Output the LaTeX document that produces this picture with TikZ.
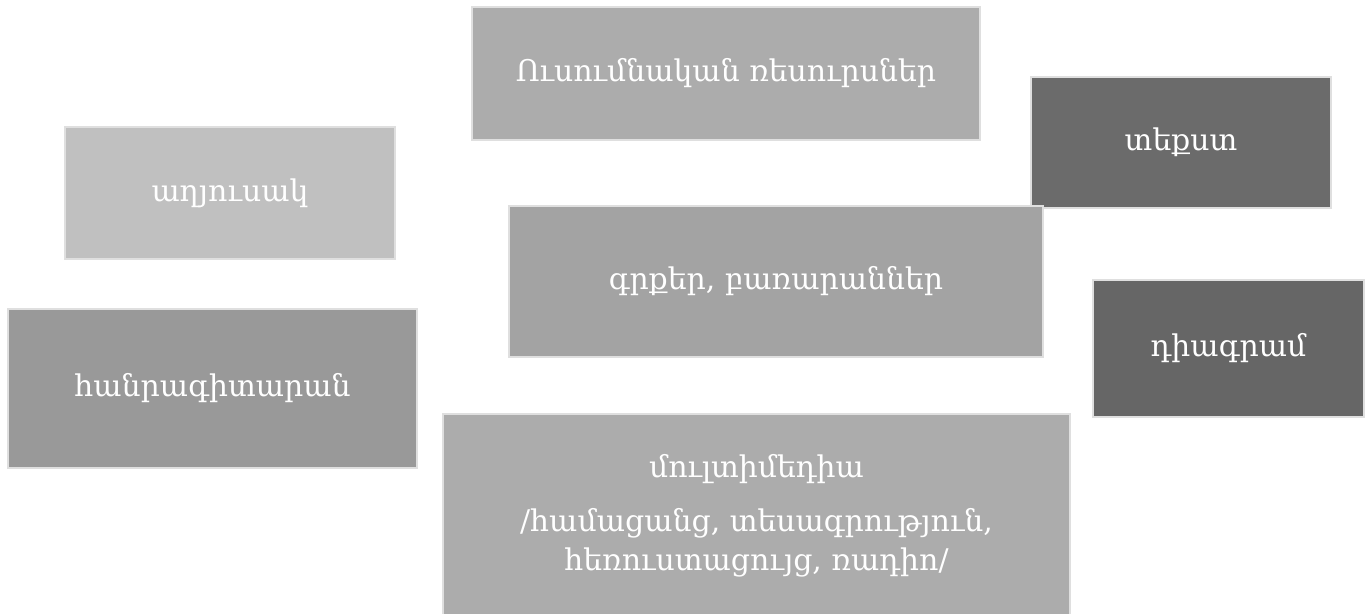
\documentclass[tikz,border=0pt]{standalone}
\usepackage{fontspec}
\setmainfont{DejaVu Serif}
\usepackage{xcolor}

\definecolor{resgray}{HTML}{ACACAC}
\definecolor{tabgray}{HTML}{C0C0C0}
\definecolor{bookgray}{HTML}{A3A3A3}
\definecolor{encgray}{HTML}{999999}
\definecolor{textgray}{HTML}{6B6B6B}
\definecolor{diagray}{HTML}{666666}

\tikzset{
  resbox/.style={draw=gray!25, line width=0.6pt, text=white, align=center,
    inner sep=0pt, font=\fontsize{17}{22}\selectfont},
}

\begin{document}
\begin{tikzpicture}

% Define dimensions
\def\pagewidth{27.4cm}
\def\pageheight{12.26cm}

\useasboundingbox (0,0) rectangle (\pagewidth,\pageheight);
\clip (0,0) rectangle (\pagewidth,\pageheight);

% Draw boxes, back to front
\node[resbox, fill=resgray, minimum width=10.16cm, minimum height=2.66cm] (res) at (14.52,10.79) {Ուսումնական ռեսուրսներ};
\node[resbox, fill=textgray, minimum width=6cm, minimum height=2.62cm] (tekst) at (23.62,9.41) {տեքստ};
\node[resbox, fill=tabgray, minimum width=6.6cm, minimum height=2.64cm] (table) at (4.6,8.4) {աղյուսակ};
\node[resbox, fill=bookgray, minimum width=10.68cm, minimum height=3.02cm] (books) at (15.52,6.63) {գրքեր, բառարաններ};
\node[resbox, fill=encgray, minimum width=8.18cm, minimum height=3.18cm] (encyc) at (4.25,4.49) {հանրագիտարան};
\node[resbox, fill=diagray, minimum width=5.42cm, minimum height=2.74cm] (diagram) at (24.57,5.29) {դիագրամ};

% Multimedia box runs off the bottom edge
\node[resbox, fill=resgray, minimum width=12.54cm, minimum height=4.06cm] (media) at (15.13,1.95)
  {մուլտիմեդիա\\[9pt] /համացանց, տեսագրություն,\\ հեռուստացույց, ռադիո/};

\end{tikzpicture}
\end{document}
